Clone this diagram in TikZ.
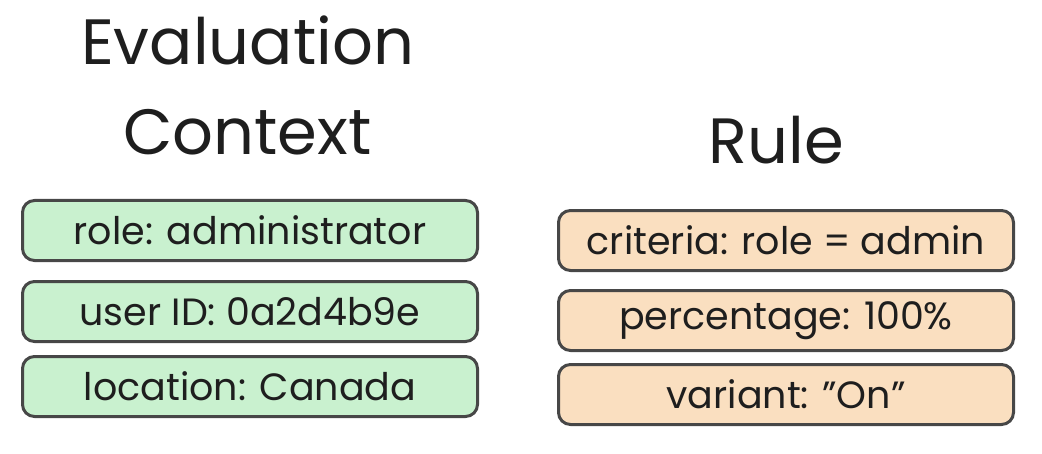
\documentclass[tikz,border=0pt]{standalone}
\usepackage{fontspec}
\setmainfont{Poppins}
\usetikzlibrary{positioning}
\definecolor{ink}     {HTML}{1E1E1E}
\definecolor{boxline} {HTML}{474747}
\definecolor{ctxfill} {HTML}{C9F1CF}
\definecolor{rulefill}{HTML}{FADFC0}
\tikzset{
  fieldbox/.style={
    rectangle, rounded corners=6pt,
    draw=boxline, line width=1.5pt,
    text=ink, font=\fontsize{19}{22}\selectfont,
    minimum width=227.5pt, minimum height=30pt, inner sep=0pt
  },
  ctxbox/.style={fieldbox, fill=ctxfill},
  rulebox/.style={fieldbox, fill=rulefill},
  heading/.style={text=ink, font=\fontsize{32}{45}\selectfont, align=center, inner sep=0pt}
}

\begin{document}
\begin{tikzpicture}[x=0.5pt, y=-0.5pt]
  \useasboundingbox (0,0) rectangle (1042,454);
  % evaluation context
  \node[heading, anchor=base] (ctxtitle) at (247.5,155) {Evaluation\\Context};
  \node[ctxbox] (role) at (250,230.5) {role: administrator};
  \node[ctxbox, below=9pt of role] (userid) {user ID: 0a2d4b9e};
  \node[ctxbox, below=6pt of userid] (location) {location: Canada};
  % rule
  \node[heading, anchor=base] (ruletitle) at (776.5,163) {Rule};
  \node[rulebox] (criteria) at (786,240.5) {criteria: role = admin};
  \node[rulebox, below=8.5pt of criteria] (percent) {percentage: 100\%};
  \node[rulebox, below=5.5pt of percent] (variant) {variant: "On"};
\end{tikzpicture}
\end{document}
